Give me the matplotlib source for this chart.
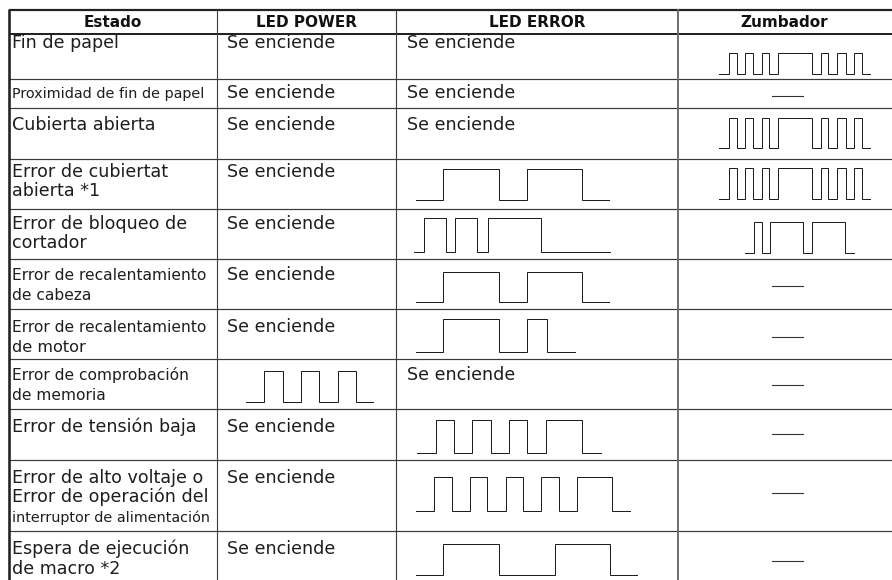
import matplotlib
matplotlib.use("Agg")
import matplotlib.pyplot as plt

# ---------------- data ----------------
headers = ["Estado", "LED POWER", "LED ERROR", "Zumbador"]

estado = [
    ["Fin de papel"],
    ["Proximidad de fin de papel"],
    ["Cubierta abierta"],
    ["Error de cubiertat", "abierta *1"],
    ["Error de bloqueo de", "cortador"],
    ["Error de recalentamiento", "de cabeza"],
    ["Error de recalentamiento", "de motor"],
    ["Error de comprobación", "de memoria"],
    ["Error de tensión baja"],
    ["Error de alto voltaje o", "Error de operación del", "interruptor de alimentación"],
    ["Espera de ejecución", "de macro *2"],
]

ON = "Se enciende"
led_power = [ON, ON, ON, ON, ON, ON, ON, "~pow_a", ON, ON, ON]
led_error = [ON, ON, ON, "~err_a", "~err_b", "~err_a", "~err_c", ON, "~err_d", "~err_e", "~err_f"]
zumbador = ["~zum_a", "-", "~zum_a", "~zum_a", "~zum_b", "-", "-", "-", "-", "-", "-"]

# waveform segment durations (alternating low/high, starting low)
zum_a = [10, 7.3, 8.3, 7.7, 9, 7.7, 9, 33.3, 9, 7.7, 8.3, 9.3, 8, 7.7, 8.3]
zum_b = [9, 7.7, 8.3, 33.3, 8.3, 33.3, 9]
err_a = [27.3, 55.7, 27.7, 55, 27.3]
err_b = [10, 21.3, 9.3, 22.3, 11, 52.3, 69.3]
err_c = [27.3, 55.7, 27.7, 20.7, 27.7]
pow_a = [18.7, 18.3, 18.3, 18.3, 18.3, 18.3, 17.3]
err_d = [19, 18.3, 18.3, 18.3, 18.3, 18.3, 18.3, 36.7, 18.3]
err_e = [18.3, 17.3, 18.3, 17.3, 18.3, 17.7, 17.7, 18, 17.7, 35.7, 17.7]
err_f = [27.3, 55.7, 56, 55, 27.3]

waves = {"zum_a": zum_a, "zum_b": zum_b, "err_a": err_a, "err_b": err_b,
         "err_c": err_c, "pow_a": pow_a, "err_d": err_d, "err_e": err_e,
         "err_f": err_f}

# ---------------- layout ----------------
W, H = 892, 580
col_x = [8.7, 217, 396, 678, 911]
row_y = [10, 34, 79, 108, 159, 209, 259, 309, 359, 409, 460, 531, 590]
base_off = [14.5, 19, 22, 18, 20, 21.5, 23, 21, 23, 23, 23]   # first baseline below row top
line_gap = 19.5
text_pad = [3.5, 9.7, 11]

# waveform placement (x start, top, bottom) per (row, col)
wave_pos = {
    (0, 3): (719.3, 52.7, 74),
    (2, 3): (719.3, 118, 148),
    (3, 2): (416, 169.3, 200), (3, 3): (719.3, 168.3, 199.3),
    (4, 2): (414.3, 217.7, 251.7), (4, 3): (745, 221.7, 252.7),
    (5, 2): (416, 271.7, 302.3),
    (6, 2): (416, 318.5, 351.7),
    (7, 1): (245.7, 371, 401.7),
    (8, 2): (416.7, 420, 452.7),
    (9, 2): (416, 476.7, 510.7),
    (10, 2): (416, 544, 575),
}
dash_y = {1: 95.7, 5: 286, 6: 337.3, 7: 385, 8: 434.3, 9: 492.7, 10: 560.7}
dash_x = (771.7, 802.7)

MAIN, SMALL, TINY = 12.6, 11.2, 10.4
size_of = {"Proximidad de fin de papel": TINY, "interruptor de alimentación": TINY,
           "Error de recalentamiento": SMALL, "de cabeza": SMALL,
           "Error de comprobación": SMALL, "de memoria": SMALL, "de motor": 11.6}

PX = 0.72  # points per pixel
ink = "#1e1e1e"

fig = plt.figure(figsize=(W / 100, H / 100), dpi=100)
ax = fig.add_axes([0, 0, 1, 1])
ax.set_xlim(0, W)
ax.set_ylim(H, 0)
ax.axis("off")

# grid
ax.plot([col_x[0], W], [row_y[0], row_y[0]], color="#222", lw=2.2 * PX, solid_capstyle="butt")
ax.plot([col_x[0], W], [row_y[1], row_y[1]], color="#222", lw=2.0 * PX, solid_capstyle="butt")
for y in row_y[2:-1]:
    ax.plot([col_x[0], W], [y, y], color="#3a3a3a", lw=1.2 * PX, solid_capstyle="butt")
ax.plot([col_x[0], col_x[0]], [row_y[0] - 1, H], color="#222", lw=2.6 * PX, solid_capstyle="butt")
ax.plot([col_x[1]] * 2, [row_y[0], H], color="#3a3a3a", lw=1.1 * PX)
ax.plot([col_x[2]] * 2, [row_y[0], H], color="#3a3a3a", lw=1.1 * PX)
ax.plot([col_x[3]] * 2, [row_y[0], H], color="#6a6a6a", lw=1.9 * PX)

# headers
for c, h in enumerate(headers):
    right = col_x[c + 1] if c < 3 else 891
    ax.text((col_x[c] + right) / 2, (row_y[0] + row_y[1]) / 2 + 0.5, h,
            ha="center", va="center", fontsize=11, fontweight="bold",
            family="DejaVu Sans", color="#111")


def draw_wave(name, x0, top, bot):
    durs = waves[name]
    xs, ys = [], []
    t = x0
    for i, d in enumerate(durs):
        lvl = top if i % 2 else bot
        xs += [t, t + d]
        ys += [lvl, lvl]
        t += d
    ax.plot(xs, ys, color=ink, lw=1.0 * PX, solid_joinstyle="miter")


columns = [estado, led_power, led_error, zumbador]
for r in range(len(estado)):
    top = row_y[r + 1]
    for c, col in enumerate(columns):
        cell = col[r]
        if c == 0:
            for i, line in enumerate(cell):
                ax.text(col_x[0] + text_pad[0], top + base_off[r] + i * line_gap, line,
                        ha="left", va="baseline", fontsize=size_of.get(line, MAIN),
                        family="DejaVu Sans", color=ink)
        elif cell.startswith("~"):
            x0, wt, wb = wave_pos[(r, c)]
            draw_wave(cell[1:], x0, wt, wb)
        elif cell == "-":
            ax.plot(dash_x, [dash_y[r]] * 2, color="#333", lw=1.1 * PX)
        else:
            ax.text(col_x[c] + text_pad[c], top + base_off[r], cell,
                    ha="left", va="baseline", fontsize=MAIN,
                    family="DejaVu Sans", color=ink)

fig.savefig("out.png", dpi=100)
